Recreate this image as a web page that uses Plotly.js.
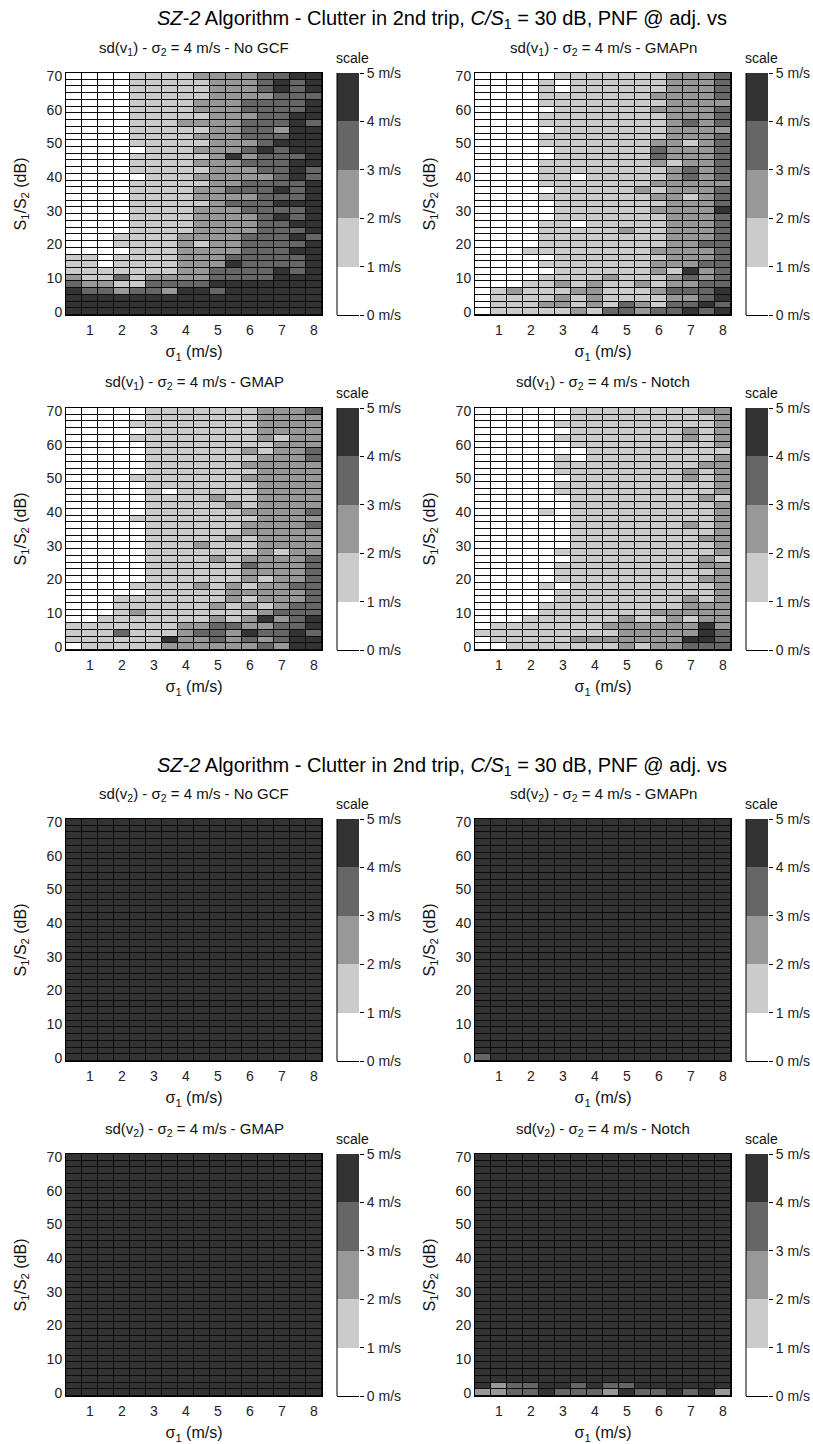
<!DOCTYPE html>
<html>
<head>
<meta charset="utf-8">
<script src="https://cdn.plot.ly/plotly-3.0.1.min.js"></script>
<style>
html,body{margin:0;padding:0;background:#fff;}
#chart{width:813px;height:1444px;}
</style>
</head>
<body>
<div id="chart"></div>
<script>
// ---------- DATA ----------
// sigma_1 (m/s) columns
const sigma1 = [0.5,1,1.5,2,2.5,3,3.5,4,4.5,5,5.5,6,6.5,7,7.5,8];
// S1/S2 (dB) rows, listed from top (70) to bottom (0)
const s1s2 = [70,68,66,64,62,60,58,56,54,52,50,48,46,44,42,40,38,36,34,32,30,28,26,24,22,20,18,16,14,12,10,8,6,4,2,0];
// colour-bin index (0: 0-1 m/s, 1: 1-2, 2: 2-3, 3: 3-4, 4: 4-5 m/s), one string per row (top row first)
const v1_noGCF = [
"0000111122223344","0000111112223434","0000111112223434","0000111112222333",
"0000111122233334","0000111122233334","0000111112223344","0000111222233343",
"0000111112233244","0000111122233344","0000111112223444","0000011122234344",
"0000111112423334","0000111122233344","0000111112223343","0000011122222343",
"0000111112233334","0000111122333434","0000111122223334","0000111112333444",
"0000111122233334","0000111122223434","0000111122223344","0000111122223334",
"0001111222233343","0001111212233334","0000111222233344","1101111222333334",
"1101111222433334","1111111223333434","2113122223333444","3221133334444444",
"4332332443444444","4444444444444444","4444444444444444","4444444444444444"];
const v1_GMAPn = [
"0000011111112223","0000101111112223","0000101111112223","0000111111122223",
"0000111111112222","0000011111122223","0000111111112223","0000111111112323",
"0000011111112222","0000111111112223","0000111111122123","0000011111132223",
"0000011111132223","0000111111121223","0000111111112323","0000110111112323",
"0000111111122222","0000011111212223","0000111111122123","0000011111112223",
"0000011111122224","0000011111112223","0000110111112223","0000111112112223",
"0000111111112223","0000111111112233","0001111111122223","0000011111112223",
"0000111111122233","0000011111121423","0000111121112323","0001121211212233",
"0121112211123334","0111121211112234","0111221213213343","0111112133233434"];
const v1_GMAP = [
"0000011111112223","0000011111112222","0000111111112222","0000011111112222",
"0000111111112122","0000011111111222","0000011111121223","0000011111112223",
"0000011111122222","0000011111112222","0000111111122222","0000011111112222",
"0000010111112222","0000011112112222","0000011111212222","0000011111122223",
"0000111111112222","0000011111122223","0000011111122222","0000011111212222",
"0000011121112222","0000011111112122","0000011112122223","0000011111132223",
"0000011111122223","0000011111121223","0000111121212233","0000011111222223",
"0001111111212223","0001111112121233","0001211111112333","0011111112124234",
"1111111223322334","1113111233243343","1111114223232344","0111112222223244"];
const v1_Notch = [
"0000001111111122","0000001111111112","0000011111111112","0000001111111212",
"0000011111111212","0000001111111112","0000000111111111","0000010111111112",
"0000011111111122","0000011111111212","0000001111111212","0000011111111112",
"0000011111111112","0000001111111121","0000001111111112","0000101111111112",
"0000001111111112","0000001111111212","0000001111111112","0000001111111122",
"0000001111111112","0000011111111112","0000001111111121","0000011111111122",
"0000011111111112","0000011111111122","0000101111111112","0000011111111112",
"0000011111111212","0000111111111222","0000111111122222","0001111112112122",
"0111111122222242","1111111112222243","0111112222222443","0011111112122333"];
const v2_noGCF = [
"4444444444444444","4444444444444444","4444444444444444","4444444444444444",
"4444444444444444","4444444444444444","4444444444444444","4444444444444444",
"4444444444444444","4444444444444444","4444444444444444","4444444444444444",
"4444444444444444","4444444444444444","4444444444444444","4444444444444444",
"4444444444444444","4444444444444444","4444444444444444","4444444444444444",
"4444444444444444","4444444444444444","4444444444444444","4444444444444444",
"4444444444444444","4444444444444444","4444444444444444","4444444444444444",
"4444444444444444","4444444444444444","4444444444444444","4444444444444444",
"4444444444444444","4444444444444444","4444444444444444","4444444444444444"];
const v2_GMAPn = [
"4444444444444444","4444444444444444","4444444444444444","4444444444444444",
"4444444444444444","4444444444444444","4444444444444444","4444444444444444",
"4444444444444444","4444444444444444","4444444444444444","4444444444444444",
"4444444444444444","4444444444444444","4444444444444444","4444444444444444",
"4444444444444444","4444444444444444","4444444444444444","4444444444444444",
"4444444444444444","4444444444444444","4444444444444444","4444444444444444",
"4444444444444444","4444444444444444","4444444444444444","4444444444444444",
"4444444444444444","4444444444444444","4444444444444444","4444444444444444",
"4444444444444444","4444444444444444","4444444444444444","3444444444444444"];
const v2_GMAP = [
"4444444444444444","4444444444444444","4444444444444444","4444444444444444",
"4444444444444444","4444444444444444","4444444444444444","4444444444444444",
"4444444444444444","4444444444444444","4444444444444444","4444444444444444",
"4444444444444444","4444444444444444","4444444444444444","4444444444444444",
"4444444444444444","4444444444444444","4444444444444444","4444444444444444",
"4444444444444444","4444444444444444","4444444444444444","4444444444444444",
"4444444444444444","4444444444444444","4444444444444444","4444444444444444",
"4444444444444444","4444444444444444","4444444444444444","4444444444444444",
"4444444444444444","4444444444444444","4444444444444444","4444444444444444"];
const v2_Notch = [
"4444444444444444","4444444444444444","4444444444444444","4444444444444444",
"4444444444444444","4444444444444444","4444444444444444","4444444444444444",
"4444444444444444","4444444444444444","4444444444444444","4444444444444444",
"4444444444444444","4444444444444444","4444444444444444","4444444444444444",
"4444444444444444","4444444444444444","4444444444444444","4444444444444444",
"4444444444444444","4444444444444444","4444444444444444","4444444444444444",
"4444444444444444","4444444444444444","4444444444444444","4444444444444444",
"4444444444444444","4444444444444444","4444444444444444","4444444444444444",
"4444444444444444","4444444444444444","4233443433444444","2233433324334342"];
// colour bar
const scaleBins = [0.5,1.5,2.5,3.5,4.5];
const scaleTicks = [0,1,2,3,4,5];
const scaleLabels = ["0 m/s","1 m/s","2 m/s","3 m/s","4 m/s","5 m/s"];
const xTicks = [1,2,3,4,5,6,7,8];
const yTicks = [0,10,20,30,40,50,60,70];
const panelData = [v1_noGCF, v1_GMAPn, v1_GMAP, v1_Notch, v2_noGCF, v2_GMAPn, v2_GMAP, v2_Notch];
const panelTitles = [
 "sd(v<sub>1</sub>) - σ<sub>2</sub> = 4 m/s - No GCF",
 "sd(v<sub>1</sub>) - σ<sub>2</sub> = 4 m/s - GMAPn",
 "sd(v<sub>1</sub>) - σ<sub>2</sub> = 4 m/s - GMAP",
 "sd(v<sub>1</sub>) - σ<sub>2</sub> = 4 m/s - Notch",
 "sd(v<sub>2</sub>) - σ<sub>2</sub> = 4 m/s - No GCF",
 "sd(v<sub>2</sub>) - σ<sub>2</sub> = 4 m/s - GMAPn",
 "sd(v<sub>2</sub>) - σ<sub>2</sub> = 4 m/s - GMAP",
 "sd(v<sub>2</sub>) - σ<sub>2</sub> = 4 m/s - Notch"];
const figTitle = "<i>SZ-2</i> Algorithm - Clutter in 2nd trip, <i>C/S</i><sub>1</sub> = 30 dB, PNF @ adj. vs";

// ---------- LAYOUT ----------
const W = 813, H = 1444;
const FONT = "Liberation Sans, Arial, Helvetica, sans-serif";
const px = v => v / W;
const py = v => 1 - v / H;
const colX = [0, 409];
const rowTop = [73, 408, 819, 1154];
const plotH = 242;
const titleY = [18, 766];

const grayScale = [
 [0,"#ffffff"],[0.2,"#ffffff"],
 [0.2,"#cbcbcb"],[0.4,"#cbcbcb"],
 [0.4,"#989898"],[0.6,"#989898"],
 [0.6,"#666666"],[0.8,"#666666"],
 [0.8,"#333333"],[1,"#333333"]];

const traces = [];
const layout = {
  width: W, height: H,
  margin: {l:0, r:0, t:0, b:0},
  paper_bgcolor: "#ffffff",
  plot_bgcolor: "#0b0b0b",
  font: {family: FONT, size: 14, color: "#1a1a1a"},
  showlegend: false,
  title: {text: figTitle, x: px(442), xanchor: "center", y: py(titleY[0]), yanchor: "middle",
          font: {family: FONT, size: 20, color: "#000"}},
  annotations: [], shapes: []
};
layout.annotations.push({text: figTitle, xref:"paper", yref:"paper", x: px(442), y: py(titleY[1]),
  xanchor:"center", yanchor:"middle", showarrow:false, font:{family:FONT, size:20, color:"#000"}});

function axName(n){ return n === 1 ? "" : String(n); }

panelData.forEach((rows, p) => {
  const r = Math.floor(p / 2), c = p % 2;
  const dx = colX[c];
  const top = rowTop[r], bot = top + plotH;
  const nMain = 2*p + 1, nCb = 2*p + 2;
  const zRows = rows.map(s => s.split("").map(ch => Number(ch) + 0.5));
  // main heatmap
  traces.push({
    type: "heatmap", x: sigma1, y: s1s2, z: zRows,
    colorscale: grayScale, zmin: 0, zmax: 5, showscale: false,
    xgap: 1, ygap: 1, hoverinfo: "skip",
    xaxis: "x" + axName(nMain), yaxis: "y" + axName(nMain)
  });
  layout["xaxis" + axName(nMain)] = {
    domain: [px(66 + dx), px(322 + dx)], anchor: "y" + axName(nMain),
    range: [0.25, 8.25], tickvals: xTicks, ticks: "", showgrid: false, zeroline: false,
    showline: true, mirror: true, linecolor: "#000", linewidth: 1,
    tickfont: {size: 14, color: "#222"}, fixedrange: true, ticklabelstandoff: 2,
    title: {text: "σ<sub>1</sub> (m/s)", font: {size: 16, color: "#111"}, standoff: 9}
  };
  layout["yaxis" + axName(nMain)] = {
    domain: [py(bot), py(top)], anchor: "x" + axName(nMain),
    range: [-1, 71], tickvals: yTicks, ticks: "", showgrid: false, zeroline: false,
    showline: true, mirror: true, linecolor: "#000", linewidth: 1,
    tickfont: {size: 14, color: "#222"}, fixedrange: true,
    title: {text: "S<sub>1</sub>/S<sub>2</sub> (dB)", font: {size: 16, color: "#111"}, standoff: 16}
  };
  // colour bar as its own small heatmap
  traces.push({
    type: "heatmap", x: [0], y: scaleBins, z: scaleBins.map(v => [v]),
    colorscale: grayScale, zmin: 0, zmax: 5, showscale: false, hoverinfo: "skip",
    xaxis: "x" + axName(nCb), yaxis: "y" + axName(nCb)
  });
  layout["xaxis" + axName(nCb)] = {
    domain: [px(337 + dx), px(359 + dx)], anchor: "y" + axName(nCb),
    range: [-0.5, 0.5], showticklabels: false, ticks: "", showgrid: false, zeroline: false,
    showline: true, linecolor: "#000", linewidth: 1, fixedrange: true
  };
  layout["yaxis" + axName(nCb)] = {
    domain: [py(bot), py(top)], anchor: "x" + axName(nCb), side: "right",
    range: [0, 5], tickvals: scaleTicks, ticktext: scaleLabels,
    ticks: "outside", ticklen: 4, tickwidth: 1, tickcolor: "#000",
    showgrid: false, zeroline: false, showline: false, fixedrange: true,
    tickfont: {size: 14, color: "#222"}
  };
  layout.shapes.push({type: "line", xref: "x" + axName(nCb) + " domain", yref: "y" + axName(nCb) + " domain",
    x0: 0, x1: 0, y0: 0, y1: 1, line: {color: "#000", width: 1}});
  // subplot title and "scale" label
  layout.annotations.push({text: panelTitles[p], xref: "paper", yref: "paper",
    x: px(194 + dx), y: py(top - 25), xanchor: "center", yanchor: "middle", showarrow: false,
    font: {family: FONT, size: 15, color: "#111"}});
  layout.annotations.push({text: "scale", xref: "paper", yref: "paper",
    x: px(352 + dx), y: py(top - 15), xanchor: "center", yanchor: "middle", showarrow: false,
    font: {family: FONT, size: 14, color: "#111"}});
});

Plotly.newPlot("chart", traces, layout, {staticPlot: true, displayModeBar: false});
</script>
</body>
</html>
